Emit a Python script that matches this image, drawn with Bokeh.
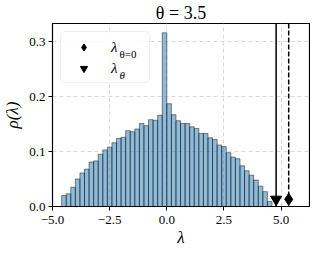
from bokeh.plotting import figure
from bokeh.models import (Span, Legend, LegendItem, Label, FixedTicker, Range1d,
                          Title, BoxAnnotation)
from bokeh.embed import file_html
from bokeh.resources import INLINE
import numpy as np

# ---- data ----
theta = 3.5
bin_lo = -4.6
bin_width = 0.2
rho = [0.020, 0.023, 0.035, 0.050, 0.061, 0.068, 0.081, 0.083, 0.095, 0.103,
       0.108, 0.116, 0.124, 0.126, 0.138, 0.136, 0.141, 0.151, 0.147, 0.158,
       0.157, 0.166, 0.316, 0.187, 0.167, 0.156, 0.151, 0.151, 0.145, 0.142,
       0.133, 0.133, 0.125, 0.122, 0.112, 0.109, 0.098, 0.090, 0.087, 0.074,
       0.065, 0.057, 0.048, 0.037, 0.027, 0.009]
lam_theta0 = 5.33
lam_theta = 4.78
marker_y = 0.013
x_ticks = [-5.0, -2.5, 0.0, 2.5, 5.0]
x_tick_labels = ["−5.0", "−2.5", "0.0", "2.5", "5.0"]
y_ticks = [0.0, 0.1, 0.2, 0.3]
y_tick_labels = ["0.0", "0.1", "0.2", "0.3"]
title_text = "θ = 3.5"

FONT = "Liberation Serif"
FW, FH = 257, 183

left = bin_lo + bin_width * np.arange(len(rho))
right = left + bin_width

p = figure(frame_width=FW, frame_height=FH, output_backend="svg",
           toolbar_location=None,
           x_range=Range1d(-5.0, 6.24), y_range=Range1d(0, 0.333),
           min_border_left=45, min_border_right=1, min_border_top=0,
           min_border_bottom=0)
p.background_fill_color = "white"
p.border_fill_color = "white"
p.outline_line_color = "black"
p.outline_line_width = 1.2
p.outline_line_alpha = 1.0

p.title.text = title_text
p.title.align = "center"
p.title.text_font = FONT
p.title.text_font_size = "18px"
p.title.text_font_style = "normal"
p.title.text_color = "black"
p.title.standoff = 1
p.title.offset = 0

p.add_layout(Title(text="λ", align="center", text_font=FONT,
                   text_font_size="17px", text_font_style="italic",
                   text_color="black", standoff=-2), "below")

for g in (p.xgrid, p.ygrid):
    g.grid_line_color = "#cfcfcf"
    g.grid_line_dash = "4 3"
    g.grid_line_width = 0.8

# legend frame (drawn under the legend entries)
p.add_layout(BoxAnnotation(left=8, right=97, top=FH - 8, bottom=FH - 59,
                           left_units="screen", right_units="screen",
                           top_units="screen", bottom_units="screen",
                           fill_color="white", fill_alpha=0.8,
                           line_color="#cccccc", line_width=1,
                           border_radius=4, level="underlay"))

p.quad(left=left, right=right, bottom=0, top=rho,
       fill_color="#1f77b4", fill_alpha=0.5,
       line_color="black", line_alpha=0.45, line_width=1)

p.add_layout(Span(location=lam_theta, dimension="height",
                  line_color="black", line_width=1.5))
p.add_layout(Span(location=lam_theta0, dimension="height",
                  line_color="black", line_width=1.5, line_dash="5 2"))

r_d = p.scatter(x=[lam_theta0], y=[marker_y], marker="diamond", size=12,
                color="black")
r_t = p.scatter(x=[lam_theta], y=[marker_y], marker="inverted_triangle",
                size=11, color="black")

legend = Legend(items=[LegendItem(label="λ", renderers=[r_d]),
                       LegendItem(label="λ", renderers=[r_t])],
                location="top_left", margin=8, padding=6, spacing=3,
                glyph_width=33, glyph_height=18, label_height=18,
                label_width=33, label_standoff=11,
                label_text_font=FONT, label_text_font_style="italic",
                label_text_font_size="15px", label_text_color="black",
                border_line_color="#cccccc", border_line_alpha=0.01,
                background_fill_alpha=0)
p.add_layout(legend, "center")

# subscripts of legend labels
p.add_layout(Label(x=67, y=FH - 30, x_units="screen", y_units="screen",
                   text="θ=0", text_font=FONT, text_font_size="11px",
                   text_color="black", text_baseline="alphabetic"))
p.add_layout(Label(x=67, y=FH - 51, x_units="screen", y_units="screen",
                   text="θ", text_font=FONT, text_font_size="11px",
                   text_font_style="italic", text_color="black",
                   text_baseline="alphabetic"))

for ax in (p.xaxis, p.yaxis):
    ax.major_label_text_font = FONT
    ax.major_label_text_font_size = "13px"
    ax.major_label_text_color = "black"
    ax.axis_label_text_font = FONT
    ax.axis_label_text_font_size = "17px"
    ax.axis_label_text_font_style = "italic"
    ax.axis_label_text_color = "black"
    ax.minor_tick_line_color = None
    ax.major_tick_in = 0
    ax.major_tick_out = 4
    ax.major_label_standoff = 3
    ax.axis_label_standoff = 4
    ax.axis_line_color = "black"
    ax.major_tick_line_color = "black"

p.xaxis.major_label_standoff = 5
p.xaxis.ticker = FixedTicker(ticks=x_ticks)
p.xaxis.major_label_overrides = dict(zip(x_ticks, x_tick_labels))
p.yaxis.ticker = FixedTicker(ticks=y_ticks)
p.yaxis.major_label_overrides = dict(zip(y_ticks, y_tick_labels))
p.yaxis.axis_label = "ρ(λ)"

open("out.html", "w").write(file_html(p, INLINE))
